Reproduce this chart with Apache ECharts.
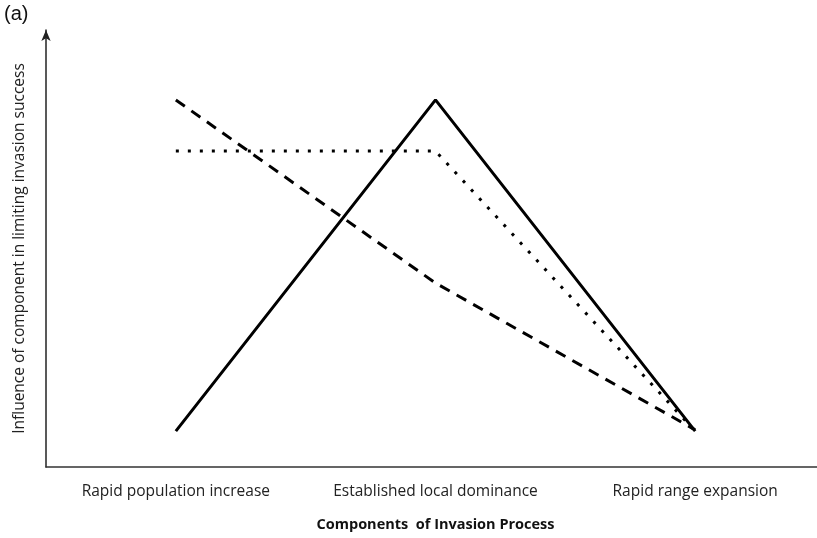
<!DOCTYPE html>
<html>
<head>
<meta charset="utf-8">
<script src="https://cdn.jsdelivr.net/npm/echarts@6/dist/echarts.min.js"></script>
<style>html,body{margin:0;padding:0;background:#fff;}#c{width:817px;height:538px;}</style>
</head>
<body>
<div id="c"></div>
<script>
const categories = ['Rapid population increase', 'Established local dominance', 'Rapid range expansion'];
const solidValues = [8.2, 84, 8.2];
const dashedValues = [84, 42.1, 8.5];
const dottedValues = [72.3, 72.3, 8.2];
const xTitle = 'Components  of Invasion Process';
const yTitle = 'Influence of component in limiting invasion success';

function pts(vals){ return vals.map((v,i)=>[i,v]); }
const FONT = '"Open Sans", "Liberation Sans", sans-serif';
const chart = echarts.init(document.getElementById('c'), null, {renderer:'canvas'});
chart.setOption({
  animation:false,
  backgroundColor:'#fff',
  graphic:[{type:'text', left:4, top:4, style:{text:'(a)', font:'20px "Liberation Sans", Arial, sans-serif', fill:'#111'}}],
  grid:{left:46, right:-8, top:30, bottom:71, containLabel:false, outerBoundsMode:'none'},
  xAxis:{
    type:'value', min:-0.5, max:2.5, interval:0.5,
    axisLine:{show:true, lineStyle:{color:'#333', width:1.5}},
    axisTick:{show:false}, splitLine:{show:false},
    axisLabel:{
      margin:17, color:'#222', fontSize:15.5, fontFamily:FONT,
      showMinLabel:false, showMaxLabel:false,
      formatter:function(v){ const i=Math.round(v); return (Math.abs(v-i)<1e-6 && categories[i])?categories[i]:''; }
    },
    name:xTitle, nameLocation:'middle', nameGap:50,
    nameTextStyle:{fontWeight:'bold', fontSize:14.5, color:'#111', fontFamily:FONT}
  },
  yAxis:{
    type:'value', min:0, max:100,
    axisLine:{show:true, onZero:false, symbol:['none','arrow'], symbolSize:[7,11], lineStyle:{color:'#222', width:1.5}},
    axisTick:{show:false}, splitLine:{show:false}, axisLabel:{show:false},
    name:yTitle, nameLocation:'middle', nameGap:18, nameRotate:90,
    nameTextStyle:{fontSize:15.5, color:'#222', fontFamily:FONT}
  },
  series:[
    {type:'line', data:pts(solidValues), symbol:'none', lineStyle:{color:'#000', width:3, type:'solid'}},
    {type:'line', data:pts(dashedValues), symbol:'none', lineStyle:{color:'#000', width:3, type:[11,8]}},
    {type:'line', data:pts(dottedValues), symbol:'none', lineStyle:{color:'#000', width:3, type:[3,9]}}
  ]
});
</script>
</body>
</html>
